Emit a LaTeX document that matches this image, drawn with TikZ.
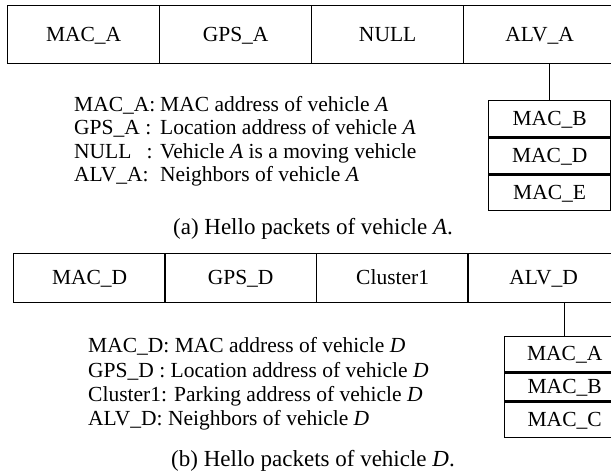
\documentclass[tikz,border=0pt]{standalone}
\usepackage{fontspec}
\setmainfont{Liberation Serif}
\usetikzlibrary{positioning}
\tikzset{
  field/.style={draw, line width=1.3pt, minimum width=152pt, inner sep=0pt, anchor=north west,
    text height=13pt, text depth=0pt, font=\fontsize{21.5}{24}\selectfont},
  nbr/.style={draw, line width=1.3pt, inner sep=0pt, text height=13pt, text depth=0pt,
    font=\fontsize{21.5}{24}\selectfont},
  legend/.style={anchor=base west, inner sep=0pt, font=\fontsize{21.5}{24}\selectfont},
  caption/.style={anchor=base, inner sep=0pt, font=\fontsize{23}{26}\selectfont}
}

\begin{document}
\begin{tikzpicture}[x=1pt,y=-1pt]
  \clip (0,0) rectangle (611,471);

  % (a) hello packet of vehicle A
  \foreach \x/\name/\txt in {7/macA/MAC\_A, 159/gpsA/GPS\_A, 311/nullA/NULL, 463/alvA/ALV\_A}{
    \node[field, minimum height=58pt] (\name) at (\x,5) {\txt};
  }
  \node[nbr, minimum width=122pt, minimum height=36pt, anchor=north west] (nbrB) at (488,100) {MAC\_B};
  \node[nbr, minimum width=122pt, minimum height=36pt, anchor=north] (nbrD) at (nbrB.south) {MAC\_D};
  \node[nbr, minimum width=122pt, minimum height=35pt, anchor=north] (nbrE) at (nbrD.south) {MAC\_E};
  \draw[line width=1.3pt] (nbrB.north) -- (nbrB.north |- alvA.south);

  \node[legend] (keyA1) at (74,111) {\makebox[86pt][l]{MAC\_A:}MAC address of vehicle \textit{A}};
  \node[legend] (keyA2) at (74,134) {\makebox[86pt][l]{GPS\_A :}Location address of vehicle \textit{A}};
  \node[legend] (keyA3) at (74,158) {\makebox[86pt][l]{NULL\hspace{15pt}:}Vehicle \textit{A} is a moving vehicle};
  \node[legend] (keyA4) at (74,181) {\makebox[86pt][l]{ALV\_A:}Neighbors of vehicle \textit{A}};
  \node[caption] (capA) at (313,234) {(a) Hello packets of vehicle \textit{A}.};

  % (b) hello packet of vehicle D
  \foreach \x/\name/\txt in {13/macD/MAC\_D, 164/gpsD/GPS\_D, 316/clusterD/Cluster1, 467/alvD/ALV\_D}{
    \node[field, minimum height=49pt] (\name) at (\x,253) {\txt};
  }
  \node[nbr, minimum width=120pt, minimum height=35pt, anchor=north west] (nbrA) at (504,336) {MAC\_A};
  \node[nbr, minimum width=120pt, minimum height=28pt, anchor=north] (nbrB2) at (nbrA.south) {MAC\_B};
  \node[nbr, minimum width=120pt, minimum height=35pt, anchor=north] (nbrC) at (nbrB2.south) {MAC\_C};
  \draw[line width=1.3pt] (nbrA.north) -- (nbrA.north |- alvD.south);

  \node[legend] (keyD1) at (88,352) {MAC\_D: MAC address of vehicle \textit{D}};
  \node[legend] (keyD2) at (88,377) {GPS\_D : Location address of vehicle \textit{D}};
  \node[legend] (keyD3) at (88,401) {Cluster1: Parking address of vehicle \textit{D}};
  \node[legend] (keyD4) at (88,425) {ALV\_D: Neighbors of vehicle \textit{D}};
  \node[caption] (capD) at (313,466) {(b) Hello packets of vehicle \textit{D}.};
\end{tikzpicture}
\end{document}
